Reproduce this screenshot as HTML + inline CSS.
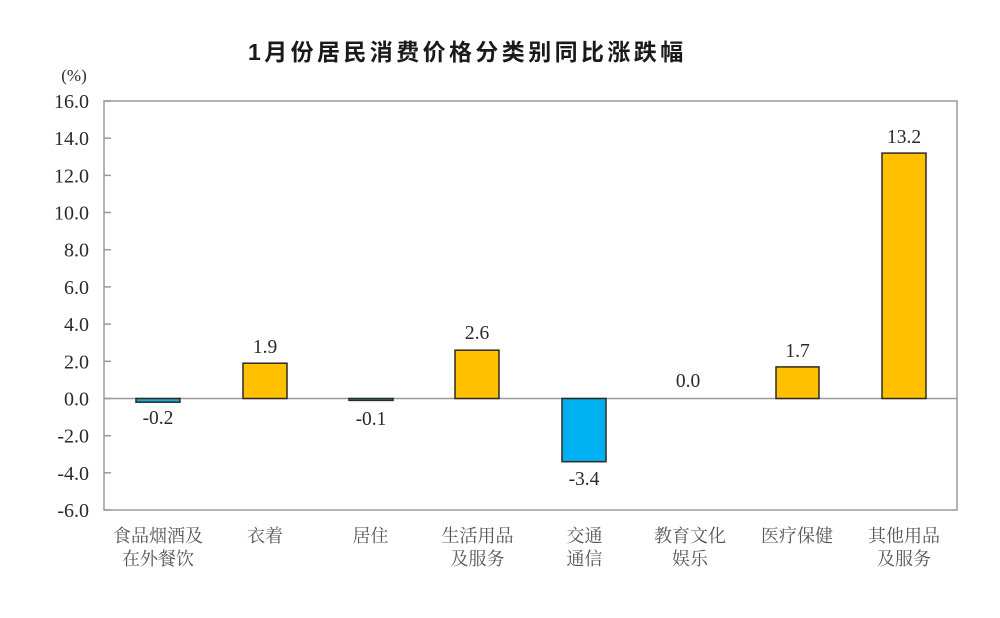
<!DOCTYPE html>
<html>
<head>
<meta charset="utf-8">
<style>
html,body{margin:0;padding:0;background:#fff;}
body{width:1000px;height:618px;overflow:hidden;}
svg{display:block;}
.t{font-family:"Liberation Sans","Noto Sans CJK SC",sans-serif;font-weight:bold;font-size:23px;fill:#1a1a1a;letter-spacing:3.4px;}
.y{font-family:"Liberation Serif","Noto Serif CJK SC",serif;font-size:20px;fill:#2a2a2a;}
.v{font-family:"Liberation Serif","Noto Serif CJK SC",serif;font-size:19.5px;fill:#2a2a2a;}
.c{font-family:"Liberation Serif","Noto Serif CJK SC",serif;font-size:18px;fill:#555;}
</style>
</head>
<body>
<svg width="1000" height="618" viewBox="0 0 1000 618" xmlns="http://www.w3.org/2000/svg">
<rect x="0" y="0" width="1000" height="618" fill="#fff"/>
<text class="t" x="248" y="60">1月份居民消费价格分类别同比涨跌幅</text>
<text class="y" x="74" y="81" text-anchor="middle" style="font-size:17px">(%)</text>

<!-- plot border -->
<rect x="104" y="101" width="853" height="409" fill="none" stroke="#9a9a9a" stroke-width="1.5"/>
<!-- zero line -->
<line x1="104" y1="398.5" x2="957" y2="398.5" stroke="#9a9a9a" stroke-width="1.5"/>

<!-- ticks -->
<g stroke="#9a9a9a" stroke-width="1.5">
<line x1="104" y1="101" x2="111" y2="101"/>
<line x1="104" y1="138.2" x2="111" y2="138.2"/>
<line x1="104" y1="175.4" x2="111" y2="175.4"/>
<line x1="104" y1="212.5" x2="111" y2="212.5"/>
<line x1="104" y1="249.7" x2="111" y2="249.7"/>
<line x1="104" y1="286.9" x2="111" y2="286.9"/>
<line x1="104" y1="324.1" x2="111" y2="324.1"/>
<line x1="104" y1="361.3" x2="111" y2="361.3"/>
<line x1="104" y1="398.5" x2="111" y2="398.5"/>
<line x1="104" y1="435.7" x2="111" y2="435.7"/>
<line x1="104" y1="472.8" x2="111" y2="472.8"/>
<line x1="104" y1="510" x2="111" y2="510"/>
</g>

<!-- y labels -->
<g class="y" text-anchor="end">
<text x="89" y="108">16.0</text>
<text x="89" y="145.2">14.0</text>
<text x="89" y="182.4">12.0</text>
<text x="89" y="219.5">10.0</text>
<text x="89" y="256.7">8.0</text>
<text x="89" y="293.9">6.0</text>
<text x="89" y="331.1">4.0</text>
<text x="89" y="368.3">2.0</text>
<text x="89" y="405.5">0.0</text>
<text x="89" y="442.7">-2.0</text>
<text x="89" y="479.8">-4.0</text>
<text x="89" y="517">-6.0</text>
</g>

<!-- bars -->
<g stroke="#2e2a22" stroke-width="1.5">
<rect x="136" y="398.5" width="44" height="3.7" fill="#1aa7de"/>
<rect x="243" y="363.2" width="44" height="35.3" fill="#FFC000"/>
<rect x="349" y="398.5" width="44" height="1.9" fill="#1aa7de"/>
<rect x="455" y="350.2" width="44" height="48.3" fill="#FFC000"/>
<rect x="562" y="398.5" width="44" height="63.2" fill="#00B0F0"/>
<rect x="776" y="366.9" width="43" height="31.6" fill="#FFC000"/>
<rect x="882" y="153.1" width="44" height="245.4" fill="#FFC000"/>
</g>

<!-- value labels -->
<g class="v" text-anchor="middle">
<text x="158" y="424">-0.2</text>
<text x="265" y="353">1.9</text>
<text x="371" y="425">-0.1</text>
<text x="477" y="339">2.6</text>
<text x="584" y="485">-3.4</text>
<text x="688" y="387">0.0</text>
<text x="797.5" y="357">1.7</text>
<text x="904" y="143">13.2</text>
</g>

<!-- category labels -->
<g class="c" text-anchor="middle">
<text x="158" y="542">食品烟酒及</text>
<text x="158" y="565">在外餐饮</text>
<text x="265" y="542">衣着</text>
<text x="370.5" y="542">居住</text>
<text x="477.5" y="542">生活用品</text>
<text x="477.5" y="565">及服务</text>
<text x="584.5" y="542">交通</text>
<text x="584.5" y="565">通信</text>
<text x="690" y="542">教育文化</text>
<text x="690" y="565">娱乐</text>
<text x="797" y="542">医疗保健</text>
<text x="904" y="542">其他用品</text>
<text x="904" y="565">及服务</text>
</g>
</svg>
</body>
</html>
